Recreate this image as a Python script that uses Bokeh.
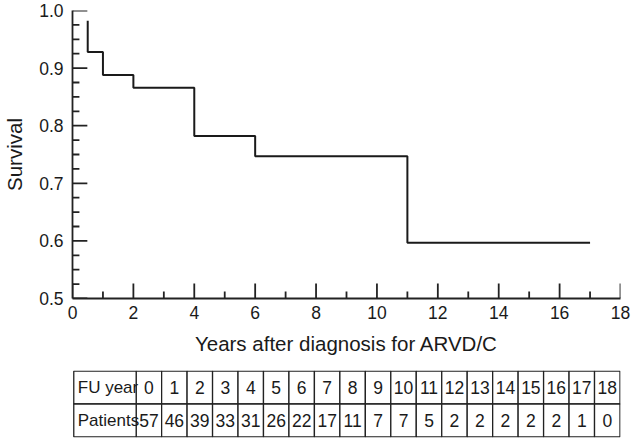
from bokeh.plotting import figure
from bokeh.layouts import column
from bokeh.models import Range1d, SingleIntervalTicker, NumeralTickFormatter, ColumnDataSource
from bokeh.core.properties import value
from bokeh.embed import file_html
from bokeh.resources import INLINE

# ---- data ----
step_years = [0.5, 0.5, 1, 2, 4, 6, 11, 17]
step_survival = [0.982, 0.928, 0.888, 0.866, 0.782, 0.747, 0.597, 0.597]

fu_years = list(range(0, 19))
patients = [57, 46, 39, 33, 31, 26, 22, 17, 11, 7, 7, 5, 2, 2, 2, 2, 2, 1, 0]
row_labels = ["FU year", "Patients"]

# tick positions
x_major = [0, 2, 4, 6, 8, 10, 12, 14, 16, 18]
x_minor = [1, 3, 5, 7, 9, 11, 13, 15, 17]
y_major = [0.5, 0.6, 0.7, 0.8, 0.9, 1.0]
y_minor = [0.525, 0.55, 0.575, 0.625, 0.65, 0.675, 0.725, 0.75, 0.775,
           0.825, 0.85, 0.875, 0.925, 0.95, 0.975]

FONT = "Liberation Sans"
INK = "#1a1a1a"
AX = "#222222"
W = 632
H = 362
BL, BR, BT, BB = 66, 12, 10, 64
X0, X1, Y0, Y1 = 0, 18, 0.5, 1.0

# ---- main KM plot ----
p = figure(width=W, height=H, output_backend="svg", toolbar_location=None,
           x_range=Range1d(X0, X1), y_range=Range1d(Y0, Y1),
           min_border_left=BL, min_border_right=BR, min_border_top=BT, min_border_bottom=BB)
p.grid.visible = False
p.outline_line_color = None
p.background_fill_color = "white"
p.border_fill_color = "white"

# inward ticks drawn inside the frame (pixel lengths converted to data units)
ux = (X1 - X0) / (W - BL - BR)
uy = (Y1 - Y0) / (H - BT - BB)
MAJ, MIN = 15, 7
ticks = ColumnDataSource(dict(
    x0=[X0] * len(y_major) + [X0] * len(y_minor) + x_major + x_minor,
    y0=y_major + y_minor + [Y0] * len(x_major) + [Y0] * len(x_minor),
    x1=[X0 + MAJ * ux] * len(y_major) + [X0 + MIN * ux] * len(y_minor) + x_major + x_minor,
    y1=y_major + y_minor + [Y0 + MAJ * uy] * len(x_major) + [Y0 + MIN * uy] * len(x_minor),
))
p.segment(x0="x0", y0="y0", x1="x1", y1="y1", source=ticks, line_color=AX, line_width=1.8)

p.step(step_years, step_survival, mode="after", line_color=INK, line_width=2)

p.xaxis.ticker = SingleIntervalTicker(interval=2, num_minor_ticks=2)
p.yaxis.ticker = SingleIntervalTicker(interval=0.1, num_minor_ticks=4)
p.yaxis.formatter = NumeralTickFormatter(format="0.0")
p.xaxis.axis_label = "Years after diagnosis for ARVD/C"
p.yaxis.axis_label = "Survival"

for ax in (p.xaxis[0], p.yaxis[0]):
    ax.axis_line_color = AX
    ax.axis_line_width = 1.8
    ax.major_tick_in = 0
    ax.major_tick_out = 0
    ax.minor_tick_in = 0
    ax.minor_tick_out = 0
    ax.major_label_text_font = FONT
    ax.major_label_text_font_size = "17.5px"
    ax.major_label_text_color = INK
    ax.axis_label_text_font = FONT
    ax.axis_label_text_font_size = "20.5px"
    ax.axis_label_text_font_style = "normal"
    ax.axis_label_text_color = INK
p.yaxis.major_label_standoff = 9
p.xaxis.major_label_standoff = 7
p.yaxis.axis_label_standoff = 10
p.xaxis.axis_label_standoff = 10

# ---- table ----
first_w = 2.45
t = figure(width=W, height=76, output_backend="svg", toolbar_location=None,
           x_range=Range1d(-first_w - 0.05, 19.02), y_range=Range1d(-0.02, 2.02),
           x_axis_location=None, y_axis_location=None,
           min_border_left=0, min_border_right=0, min_border_top=8, min_border_bottom=1)
t.grid.visible = False
t.outline_line_color = None

xs = [y + 0.5 for y in fu_years]
cells = ColumnDataSource(dict(
    x=xs + xs + [-first_w / 2, -first_w / 2],
    y=[1.5] * len(xs) + [0.5] * len(xs) + [1.5, 0.5],
    w=[1] * (2 * len(xs)) + [first_w, first_w],
))
t.rect(x="x", y="y", width="w", height=1, source=cells, fill_color="white",
       line_color=AX, line_width=1.3)

t.text(x=xs, y=[1.5] * len(xs), text=[str(v) for v in fu_years],
       text_align="center", text_baseline="middle", text_font=value(FONT),
       text_font_size="17.5px", text_color=INK)
t.text(x=xs, y=[0.5] * len(xs), text=[str(v) for v in patients],
       text_align="center", text_baseline="middle", text_font=value(FONT),
       text_font_size="17.5px", text_color=INK)
t.text(x=[-first_w, -first_w], y=[1.5, 0.5], text=row_labels, x_offset=[4, 4],
       text_align="left", text_baseline="middle", text_font=value(FONT),
       text_font_size="17px", text_color=INK)

layout = column(p, t, spacing=0)
open("out.html", "w").write(file_html(layout, INLINE))
